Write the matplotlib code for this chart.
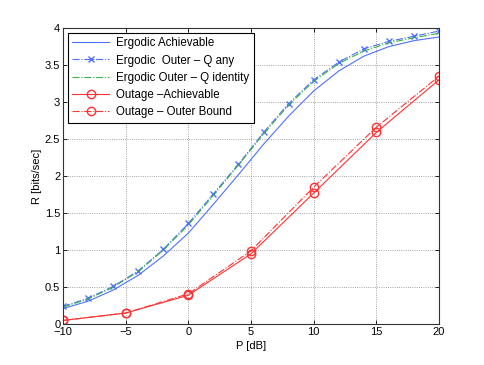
import matplotlib
matplotlib.use("Agg")
import matplotlib.pyplot as plt

plt.rcParams['font.family'] = ['Liberation Sans', 'DejaVu Sans']
plt.rcParams['font.size'] = 8

# ergodic curves, every 2 dB
p_erg = [-10, -8, -6, -4, -2, 0, 2, 4, 6, 8, 10, 12, 14, 16, 18, 20]
erg_ach = [0.21, 0.31, 0.46, 0.66, 0.92, 1.23, 1.62, 2.02, 2.43, 2.81, 3.15, 3.42, 3.62, 3.75, 3.83, 3.88]
erg_outer_any = [0.24, 0.35, 0.51, 0.72, 1.01, 1.36, 1.76, 2.16, 2.59, 2.98, 3.30, 3.54, 3.72, 3.82, 3.89, 3.96]
erg_outer_id = [0.23, 0.34, 0.50, 0.71, 1.00, 1.34, 1.74, 2.15, 2.57, 2.96, 3.28, 3.52, 3.69, 3.80, 3.87, 3.93]

# outage curves, every 5 dB
p_out = [-10, -5, 0, 5, 10, 15, 20]
out_ach = [0.05, 0.15, 0.39, 0.95, 1.77, 2.59, 3.30]
out_outer = [0.05, 0.15, 0.41, 0.99, 1.85, 2.66, 3.35]

fig = plt.figure(figsize=(4.85, 3.65), dpi=100)
ax = fig.add_axes([0.13, 0.112, 0.775, 0.811])

ax.plot(p_erg, erg_ach, '-', color='#5070ff', lw=0.8, label='Ergodic Achievable')
ax.plot(p_erg, erg_outer_any, '-.', color='#5070ff', lw=0.8, marker='x', ms=5,
        label='Ergodic  Outer \u2013 Q any')
ax.plot(p_erg, erg_outer_id, '-.', color='#3cb043', lw=0.8, label='Ergodic Outer \u2013 Q identity')
ax.plot(p_out, out_ach, '-', color='#ff3333', lw=0.8, marker='o', ms=6, mfc='none',
        label='Outage \u2013Achievable')
ax.plot(p_out, out_outer, '-.', color='#ff3333', lw=0.8, marker='o', ms=6, mfc='none',
        label='Outage \u2013 Outer Bound')

ax.set_xlim(-10, 20)
ax.set_ylim(0, 4)
ax.set_xticks([-10, -5, 0, 5, 10, 15, 20])
ax.set_xticklabels(['\u221210', '\u22125', '0', '5', '10', '15', '20'])
ax.set_yticks([0, 0.5, 1, 1.5, 2, 2.5, 3, 3.5, 4])
ax.set_yticklabels(['0', '0.5', '1', '1.5', '2', '2.5', '3', '3.5', '4'])
ax.tick_params(direction='in', length=3, width=0.6, top=True, right=True, pad=2)
ax.grid(True, linestyle=':', color='#888888', lw=0.6)
for s in ax.spines.values():
    s.set_linewidth(0.8)
    s.set_color('#333333')

ax.set_xlabel('P [dB]', labelpad=3)
ax.set_ylabel('R [bits/sec]', labelpad=2)

leg = ax.legend(loc='upper left', fancybox=False, edgecolor='black', framealpha=1,
                borderaxespad=0.4, handlelength=3.2, labelspacing=0.45, borderpad=0.4,
                handletextpad=0.6, fontsize=8.3)
leg.get_frame().set_linewidth(0.8)

fig.savefig('out.png', dpi=100)
